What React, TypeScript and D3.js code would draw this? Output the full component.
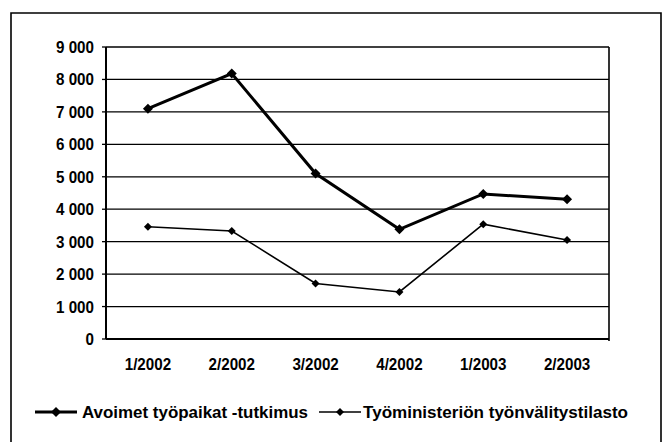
import React from "react";
import * as d3 from "d3";

const categories = ["1/2002", "2/2002", "3/2002", "4/2002", "1/2003", "2/2003"];
const seriesNames = ["Avoimet työpaikat -tutkimus", "Työministeriön työnvälitystilasto"];
const avoimet = [7100, 8180, 5100, 3380, 4470, 4310];
const tyoministerio = [3460, 3330, 1710, 1450, 3540, 3050];
const yTicks = [0, 1000, 2000, 3000, 4000, 5000, 6000, 7000, 8000, 9000];

const W = 664;
const H = 442;
const FONT = "'Liberation Sans', Arial, sans-serif";

export default function App() {
  const left = 106, right = 609, top = 47, bottom = 339;
  const x = d3.scaleBand<string>().domain(categories).range([left, right]);
  const y = d3.scaleLinear().domain([0, 9000]).range([bottom, top]);
  const cx = (c: string) => (x(c) as number) + x.bandwidth() / 2;
  const line = d3.line<number>().x((_, i) => cx(categories[i])).y((v) => y(v));
  const fmt = (v: number) => (v >= 1000 ? `${Math.floor(v / 1000)} ${String(v % 1000).padStart(3, "0")}` : String(v));
  const diamond = (px: number, py: number, r: number) =>
    `M${px},${py - r}L${px + r},${py}L${px},${py + r}L${px - r},${py}Z`;

  const series = [
    { values: avoimet, width: 3, r: 5 },
    { values: tyoministerio, width: 1.6, r: 4 },
  ];

  return (
    <svg width={W} height={H} style={{ position: "absolute", left: 0, top: 0, background: "#fff" }}>
      <rect x={0} y={0} width={W} height={H} fill="#fff" />
      <path d={`M11,${H + 2}V13H661V${H + 2}`} fill="none" stroke="#000" strokeWidth={1.6} />
      {yTicks.map((t) => (
        <g key={t}>
          <line x1={left} x2={right} y1={y(t)} y2={y(t)} stroke="#000" strokeWidth={1.3} />
          <line x1={left - 4} x2={left} y1={y(t)} y2={y(t)} stroke="#000" strokeWidth={1.3} />
          <g transform={`translate(94,${y(t)}) scale(0.92,1)`}>
            <text x={0} y={0} dy="0.36em" textAnchor="end" fontFamily={FONT} fontWeight="bold" fontSize={16.5} fill="#000">
              {fmt(t)}
            </text>
          </g>
        </g>
      ))}
      <line x1={left} x2={left} y1={top} y2={bottom} stroke="#000" strokeWidth={2} />
      <line x1={right} x2={right} y1={top} y2={bottom + 2} stroke="#000" strokeWidth={1.6} />
      <line x1={left} x2={right} y1={bottom} y2={bottom} stroke="#000" strokeWidth={1.8} />
      {categories.map((c) => (
        <g key={c} transform={`translate(${cx(c)},370) scale(0.92,1)`}>
          <text x={0} y={0} textAnchor="middle" fontFamily={FONT} fontWeight="bold" fontSize={16.5} fill="#000">
            {c}
          </text>
        </g>
      ))}
      {series.map((s, si) => (
        <g key={si}>
          <path d={line(s.values) || ""} fill="none" stroke="#000" strokeWidth={s.width} />
          {s.values.map((v, i) => (
            <path key={i} d={diamond(cx(categories[i]), y(v), s.r)} fill="#000" />
          ))}
        </g>
      ))}
      {/* legend */}
      <g>
        <line x1={35} x2={77} y1={412} y2={412} stroke="#000" strokeWidth={3} />
        <path d={diamond(56, 412, 5)} fill="#000" />
        <text x={82} y={412} dy="0.36em" fontFamily={FONT} fontWeight="bold" fontSize={16} fill="#000"
          textLength={226} lengthAdjust="spacingAndGlyphs">
          {seriesNames[0]}
        </text>
        <line x1={319} x2={361} y1={412} y2={412} stroke="#000" strokeWidth={1.6} />
        <path d={diamond(340, 412, 4)} fill="#000" />
        <text x={363} y={412} dy="0.36em" fontFamily={FONT} fontWeight="bold" fontSize={16} fill="#000"
          textLength={265} lengthAdjust="spacingAndGlyphs">
          {seriesNames[1]}
        </text>
      </g>
    </svg>
  );
}
